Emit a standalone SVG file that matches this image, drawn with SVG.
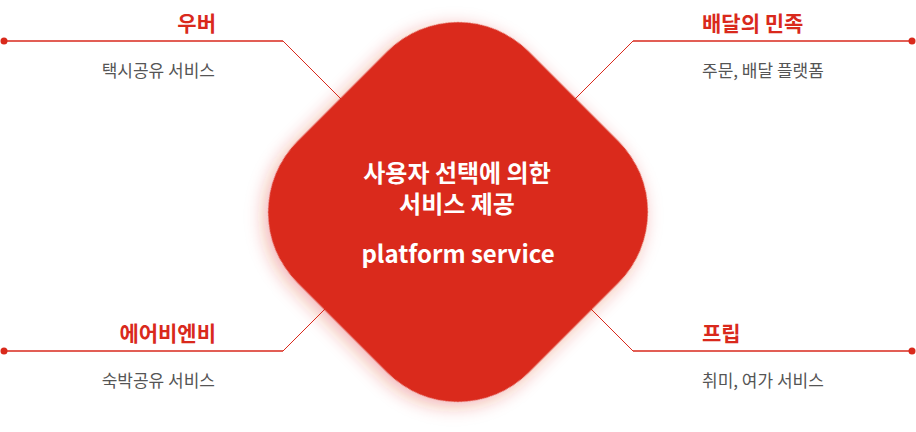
<svg xmlns="http://www.w3.org/2000/svg" width="916" height="432" viewBox="0 0 916 432">
<style>
.title{font-family:"Noto Sans CJK KR","Noto Sans",sans-serif;font-weight:700;font-size:21px;fill:#d9291c}
.sub{font-family:"Noto Sans CJK KR","Noto Sans",sans-serif;font-weight:400;font-size:17px;fill:#555}
.center{font-family:"Noto Sans CJK KR","Noto Sans",sans-serif;font-weight:700;font-size:24px;fill:#fff;text-anchor:middle}
.h{stroke:#d9291c;stroke-width:1.5;fill:none}
.d{stroke:#d9291c;stroke-width:1;fill:none}
.dot{fill:#d9291c}
</style>
<defs>
<filter id="glow" x="-30%" y="-30%" width="160%" height="160%">
<feDropShadow dx="0" dy="6" stdDeviation="9" flood-color="#d9291c" flood-opacity="0.35"/>
</filter>
</defs>
<g id="connectors">
<path class="h" d="M4 41 H283"/><path class="d" d="M283 41 L350 108"/>
<circle class="dot" cx="4" cy="41" r="3.5"/>
<path class="h" d="M912 41 H633"/><path class="d" d="M633 41 L566 108"/>
<circle class="dot" cx="912" cy="41" r="3.5"/>
<path class="h" d="M4 351 H283"/><path class="d" d="M283 351 L340 294"/>
<circle class="dot" cx="4" cy="351" r="3.5"/>
<path class="h" d="M912 351 H633"/><path class="d" d="M633 351 L576 294"/>
<circle class="dot" cx="912" cy="351" r="3.5"/>
</g>
<g id="center">
<rect x="294.5" y="48.5" width="327" height="327" rx="100" fill="#da291c" filter="url(#glow)" transform="rotate(45 458 212)"/>
<text class="center" x="457" y="182">사용자 선택에 의한<tspan x="457" dy="31">서비스 제공</tspan></text>
<text class="center" x="458" y="263">platform service</text>
</g>
<g id="uber" text-anchor="end">
<text class="title" x="216" y="31">우버</text>
<text class="sub" x="215" y="77">택시공유 서비스</text>
</g>
<g id="baemin">
<text class="title" x="702" y="31">배달의 민족</text>
<text class="sub" x="702" y="77">주문, 배달 플랫폼</text>
</g>
<g id="airbnb" text-anchor="end">
<text class="title" x="216" y="341">에어비엔비</text>
<text class="sub" x="215" y="387">숙박공유 서비스</text>
</g>
<g id="frip">
<text class="title" x="702" y="341">프립</text>
<text class="sub" x="702" y="387">취미, 여가 서비스</text>
</g>
</svg>
